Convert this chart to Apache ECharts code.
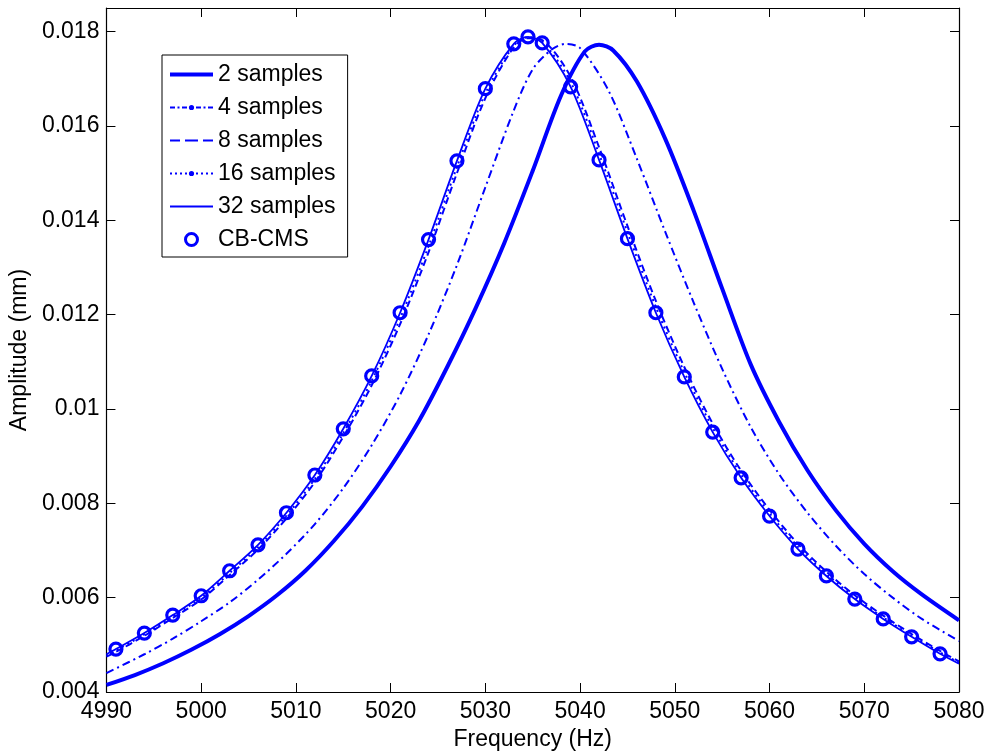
<!DOCTYPE html>
<html><head><meta charset="utf-8">
<script src="https://cdn.jsdelivr.net/npm/echarts@6/dist/echarts.min.js"></script>
<style>html,body{margin:0;padding:0;background:#fff;}#c{width:989px;height:756px;}</style>
</head><body><div id="c"></div>
<script>
// ---- data ----
const freqFine = [4990,4991,4994,4997,5000,5003,5006,5009,5012,5015,5018,5021,5024,5027,5030,5033,5034.5,5036,5039,5042,5045,5048,5051,5054,5057,5060,5063,5066,5069,5072,5075,5078,5080];
const amp32 = [0.00480,0.00491,0.00525,0.00563,0.00604,0.00657,0.00712,0.00780,0.00860,0.00958,0.01070,0.01204,0.01359,0.01526,0.01679,0.01774,0.01789,0.01776,0.01683,0.01528,0.01361,0.01204,0.01068,0.00951,0.00854,0.00773,0.00703,0.00646,0.00597,0.00555,0.00517,0.00481,0.00460];
const amp16 = [0.00477,0.00488,0.00522,0.00560,0.00600,0.00652,0.00707,0.00774,0.00852,0.00949,0.01060,0.01192,0.01345,0.01513,0.01669,0.01770,0.01788,0.01779,0.01693,0.01541,0.01375,0.01216,0.01078,0.00960,0.00861,0.00779,0.00708,0.00650,0.00601,0.00558,0.00520,0.00484,0.00462];
const amp8 = [0.00475,0.00485,0.00519,0.00557,0.00596,0.00648,0.00702,0.00768,0.00845,0.00941,0.01050,0.01180,0.01332,0.01500,0.01659,0.01767,0.01786,0.01782,0.01704,0.01555,0.01388,0.01229,0.01089,0.00969,0.00869,0.00786,0.00714,0.00655,0.00605,0.00562,0.00523,0.00487,0.00465];
const freq4 = [4990,4994,4997,5000,5003,5006,5009,5012,5015,5018,5021,5024,5027,5030,5033,5035,5037,5038.5,5040,5043,5046,5049,5052,5055,5058,5061,5064,5067,5070,5073,5076,5080];
const amp4 = [0.00440,0.00480,0.00513,0.00550,0.00590,0.00638,0.00693,0.00756,0.00832,0.00923,0.01030,0.01158,0.01305,0.01470,0.01633,0.01720,0.01762,0.01774,0.01765,0.01675,0.01530,0.01375,0.01225,0.01085,0.00962,0.00862,0.00780,0.00710,0.00650,0.00600,0.00556,0.00508];
const freq2 = [4990,4993,4996,4999,5002,5005,5008,5011,5014,5017,5020,5023,5026,5029,5032,5035,5038,5040.5,5042,5043.5,5046,5049,5052,5055,5058,5061,5064,5067,5070,5073,5076,5080];
const amp2 = [0.00415,0.00436,0.00461,0.00490,0.00523,0.00561,0.00605,0.00657,0.00720,0.00793,0.00878,0.00975,0.01090,0.01215,0.01352,0.01505,0.01665,0.01758,0.01772,0.01760,0.01694,0.01572,0.01420,0.01255,0.01095,0.00973,0.00870,0.00785,0.00714,0.00656,0.00608,0.00552];
const freqCMS = [4991,4994,4997,5000,5003,5006,5009,5012,5015,5018,5021,5024,5027,5030,5033,5034.5,5036,5039,5042,5045,5048,5051,5054,5057,5060,5063,5066,5069,5072,5075,5078];
const ampCMS = [0.00491,0.00525,0.00563,0.00604,0.00657,0.00712,0.00780,0.00860,0.00958,0.01070,0.01204,0.01359,0.01526,0.01679,0.01774,0.01789,0.01776,0.01683,0.01528,0.01361,0.01204,0.01068,0.00951,0.00854,0.00773,0.00703,0.00646,0.00597,0.00555,0.00517,0.00481];
const seriesNames = ['2 samples','4 samples','8 samples','16 samples','32 samples','CB-CMS'];
const xTicks = {min:4990, max:5080, interval:10};
const yTicks = {min:0.004, max:0.0185, interval:0.002};

// ---- build ----
const zip = (xs, ys) => xs.map((x, i) => [x, ys[i]]);
const BLUE = '#0000ff';
const FONT = 'Liberation Sans, Arial, sans-serif';

function rects(segs, h) { return segs.map(s => `M${s[0]},0h${s[1]-s[0]}v${h}h${-(s[1]-s[0])}z`).join(' '); }
const dot = (cx, r, cy) => `M${cx-r},${cy} a${r},${r} 0 1,0 ${2*r},0 a${r},${r} 0 1,0 ${-2*r},0z`;
const iconSolidThick = 'path://' + rects([[0,43]], 4);
const iconDashDot = 'path://' + rects([[0,5],[7.5,9.5],[12,17],[26,31],[33.5,35.5],[38,43]], 2) + ' ' + dot(21.5, 2.6, 1);
const iconDashed = 'path://' + rects([[0,10],[15,28],[33,43]], 2);
const iconDotted = 'path://' + rects([[0,2],[5,7],[10,12],[15,17],[26,28],[31,33],[36,38],[41,43]], 2) + ' ' + dot(21.5, 2.6, 1);
const iconSolid = 'path://' + rects([[0,43]], 2);

const axisCommon = {
  axisLine: {onZero: false, lineStyle: {color: '#000', width: 1.2}},
  axisTick: {inside: true, length: 9, lineStyle: {color: '#000', width: 1}},
  splitLine: {show: false},
  minorTick: {show: false}
};
const yFmt = v => (Math.abs(v / 0.002 - Math.round(v / 0.002)) < 1e-6) ? String(+v.toFixed(3)) : '';
const xFmt = v => String(Math.round(v));

const option = {
  animation: false,
  backgroundColor: '#fff',
  grid: {left: 106, right: 30, top: 8, bottom: 64, containLabel: false},
  legend: {
    orient: 'vertical', left: 162, top: 55,
    backgroundColor: '#fff', borderColor: '#000', borderWidth: 1,
    padding: [8, 12, 6, 8], itemGap: 10, itemWidth: 43, itemHeight: 12,
    selectedMode: false,
    textStyle: {fontSize: 23, fontFamily: FONT, color: '#000'},
    data: [
      {name: seriesNames[0], icon: iconSolidThick, itemStyle: {color: BLUE, borderWidth: 0, opacity: 1}},
      {name: seriesNames[1], icon: iconDashDot, itemStyle: {color: BLUE, borderWidth: 0, opacity: 1}},
      {name: seriesNames[2], icon: iconDashed, itemStyle: {color: BLUE, borderWidth: 0, opacity: 1}},
      {name: seriesNames[3], icon: iconDotted, itemStyle: {color: BLUE, borderWidth: 0, opacity: 1}},
      {name: seriesNames[4], icon: iconSolid, itemStyle: {color: BLUE, borderWidth: 0, opacity: 1}},
      {name: seriesNames[5], icon: 'circle', itemStyle: {color: 'rgba(0,0,0,0)', borderColor: BLUE, borderWidth: 3, opacity: 1}}
    ]
  },
  xAxis: [
    Object.assign({type: 'value', position: 'bottom', min: xTicks.min, max: xTicks.max, interval: xTicks.interval,
      axisLabel: {color: '#000', fontSize: 23, fontFamily: FONT, margin: 8, formatter: xFmt},
      name: 'Frequency (Hz)', nameLocation: 'middle', nameGap: 36,
      nameTextStyle: {color: '#000', fontSize: 23, fontFamily: FONT}}, axisCommon),
    Object.assign({type: 'value', position: 'top', min: xTicks.min, max: xTicks.max, interval: xTicks.interval,
      axisLabel: {show: false}}, axisCommon)
  ],
  yAxis: [
    Object.assign({type: 'value', position: 'left', min: yTicks.min, max: yTicks.max, interval: yTicks.interval,
      axisLabel: {color: '#000', fontSize: 23, fontFamily: FONT, margin: 7, formatter: yFmt},
      name: 'Amplitude (mm)', nameLocation: 'middle', nameGap: 70,
      nameTextStyle: {color: '#000', fontSize: 23, fontFamily: FONT}}, axisCommon),
    Object.assign({type: 'value', position: 'right', min: yTicks.min, max: yTicks.max, interval: yTicks.interval,
      axisLabel: {show: false}}, axisCommon)
  ],
  series: [
    {name: seriesNames[0], type: 'line', data: zip(freq2, amp2), symbol: 'none', smooth: 0.3,
     lineStyle: {color: BLUE, width: 4}, itemStyle: {color: BLUE}},
    {name: seriesNames[1], type: 'line', data: zip(freq4, amp4), symbol: 'none', smooth: 0.3,
     lineStyle: {color: BLUE, width: 2, type: [8, 4, 2, 4]}, itemStyle: {color: BLUE}},
    {name: seriesNames[2], type: 'line', data: zip(freqFine, amp8), symbol: 'none', smooth: 0.3,
     lineStyle: {color: BLUE, width: 2, type: [7, 4]}, itemStyle: {color: BLUE}},
    {name: seriesNames[3], type: 'line', data: zip(freqFine, amp16), symbol: 'none', smooth: 0.3,
     lineStyle: {color: BLUE, width: 2, type: [2, 4]}, itemStyle: {color: BLUE}},
    {name: seriesNames[4], type: 'line', data: zip(freqFine, amp32), symbol: 'none', smooth: 0.3,
     lineStyle: {color: BLUE, width: 1.8}, itemStyle: {color: BLUE}},
    {name: seriesNames[5], type: 'scatter', data: zip(freqCMS, ampCMS), symbol: 'circle', symbolSize: 12,
     itemStyle: {color: 'rgba(0,0,0,0)', borderColor: BLUE, borderWidth: 3.2, opacity: 1}}
  ]
};
const chart = echarts.init(document.getElementById('c'), null, {renderer: 'canvas'});
chart.setOption(option);
</script></body></html>
